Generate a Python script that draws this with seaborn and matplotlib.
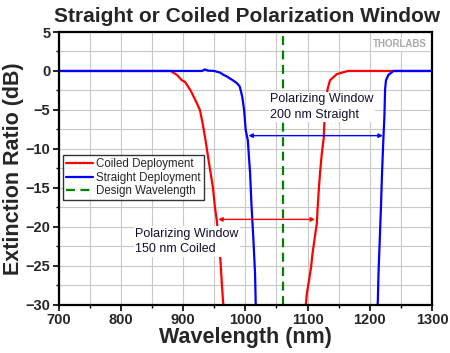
import pandas as pd
import seaborn as sns
import matplotlib
matplotlib.use("Agg")
import matplotlib.pyplot as plt
from matplotlib.ticker import MultipleLocator

# 데이터
coiled_nm = [700, 880, 890, 898, 903, 912, 920, 927, 932, 936, 942, 948, 951, 954,
             957, 960, 962, 964, 966, 1096, 1099, 1102.5, 1105.6, 1108, 1111, 1115,
             1116, 1118, 1120, 1123, 1126, 1127, 1128, 1132, 1136, 1147, 1165, 1300]
coiled_db = [0, 0, -0.5, -1.2, -1.4, -2.5, -3.8, -5, -7, -8.9, -12, -15, -17.4, -19.1,
             -22, -24.3, -27, -29.4, -31, -31, -28.5, -26.8, -25.2, -23.4, -21.7, -19.5,
             -17.8, -15.3, -13.1, -10.5, -8.6, -6.7, -5, -2.4, -1.2, -0.4, 0, 0]
straight_nm = [700, 930, 935, 940, 950, 959, 965, 970, 980, 987, 991, 995, 998, 1000.6,
               1004, 1007.6, 1010, 1013, 1015.6, 1017, 1212, 1213, 1214, 1216, 1218,
               1219.7, 1222, 1223.5, 1224.6, 1226, 1230, 1238, 1300]
straight_db = [0, 0, 0.2, 0.05, 0, -0.2, -0.5, -0.7, -1.2, -1.6, -2.0, -3.3, -5, -7.6,
               -8.9, -13.1, -17.4, -21.7, -26, -31, -31, -29.4, -26, -21.7, -17.4,
               -13.1, -8.4, -5.9, -2.4, -1.2, -0.5, 0, 0]
design_nm = 1060
design_db = [-30, 5]

window_straight = (1005, 1221, -8.3)
window_coiled = (956.5, 1112, -19.05)

coiled = pd.DataFrame({'nm': coiled_nm, 'db': coiled_db})
straight = pd.DataFrame({'nm': straight_nm, 'db': straight_db})
design = pd.DataFrame({'nm': [design_nm, design_nm], 'db': design_db})

sns.set_style("white")
plt.rcParams['font.family'] = ['Liberation Sans', 'DejaVu Sans']

fig = plt.figure(figsize=(4.5, 3.53), dpi=100)
ax = fig.add_axes([0.1304, 0.1368, 0.8296, 0.7725])

sns.lineplot(data=coiled, x='nm', y='db', sort=False, estimator=None, ax=ax,
             color='red', lw=1.6, label='Coiled Deployment')
sns.lineplot(data=straight, x='nm', y='db', sort=False, estimator=None, ax=ax,
             color='blue', lw=1.6, label='Straight Deployment')
sns.lineplot(data=design, x='nm', y='db', sort=False, estimator=None, ax=ax,
             color='green', lw=1.6, label='Design Wavelength')
ax.lines[-1].set_linestyle((0, (4, 2.5)))

# 화살표
x0, x1, yy = window_straight
ax.annotate('', xy=(x0, yy), xytext=(x1, yy),
            arrowprops=dict(arrowstyle='<|-|>', color='blue', lw=1,
                            mutation_scale=6, shrinkA=0, shrinkB=0))
x0, x1, yy = window_coiled
ax.annotate('', xy=(x0, yy), xytext=(x1, yy),
            arrowprops=dict(arrowstyle='<|-|>', color='red', lw=1,
                            mutation_scale=6, shrinkA=0, shrinkB=0))

ax.text(1040, -4.6, 'Polarizing Window\n200 nm Straight', fontsize=9, va='center',
        ha='left', linespacing=1.4, color='#101030',
        bbox=dict(facecolor='white', edgecolor='none', pad=1))
ax.text(823, -21.9, 'Polarizing Window\n150 nm Coiled', fontsize=9, va='center',
        ha='left', linespacing=1.4, color='#101030',
        bbox=dict(facecolor='white', edgecolor='none', pad=1))
ax.text(1249, 3.4, 'THORLABS', fontsize=7, fontweight='bold', color='#a8a8a8',
        ha='center', va='center',
        bbox=dict(facecolor='white', edgecolor='none', pad=1))

ax.set_xlim(700, 1300)
ax.set_ylim(-30, 5)
ax.xaxis.set_major_locator(MultipleLocator(100))
ax.xaxis.set_minor_locator(MultipleLocator(50))
ax.yaxis.set_major_locator(MultipleLocator(5))
ax.yaxis.set_minor_locator(MultipleLocator(2.5))
ax.grid(which='both', color='#c8c8c8', lw=0.8)
ax.set_axisbelow(True)
for s in ax.spines.values():
    s.set_visible(True)
    s.set_color('black')
    s.set_linewidth(1.6)
ax.tick_params(which='major', direction='out', length=4, width=1.2, color='black',
               left=True, bottom=True, labelsize=10.5, pad=2)
ax.tick_params(which='minor', direction='out', length=2, width=1, color='black',
               left=True, bottom=True)
for lbl in ax.get_xticklabels() + ax.get_yticklabels():
    lbl.set_fontweight('bold')

ax.set_title('Straight or Coiled Polarization Window', fontsize=15, fontweight='bold',
             pad=7, x=0.505)
ax.set_xlabel('Wavelength (nm)', fontsize=15.5, fontweight='bold', labelpad=0)
ax.set_ylabel('Extinction Ratio (dB)', fontsize=15.5, fontweight='bold', labelpad=1)

leg = ax.legend(loc='upper left', bbox_to_anchor=(0.012, 0.549), borderaxespad=0,
                fontsize=8.3, frameon=True, fancybox=False, handlelength=2.3,
                handletextpad=0.3, borderpad=0.25, labelspacing=0.15)
leg.get_frame().set_edgecolor('black')
leg.get_frame().set_linewidth(1)

fig.savefig('out.png', dpi=100)
